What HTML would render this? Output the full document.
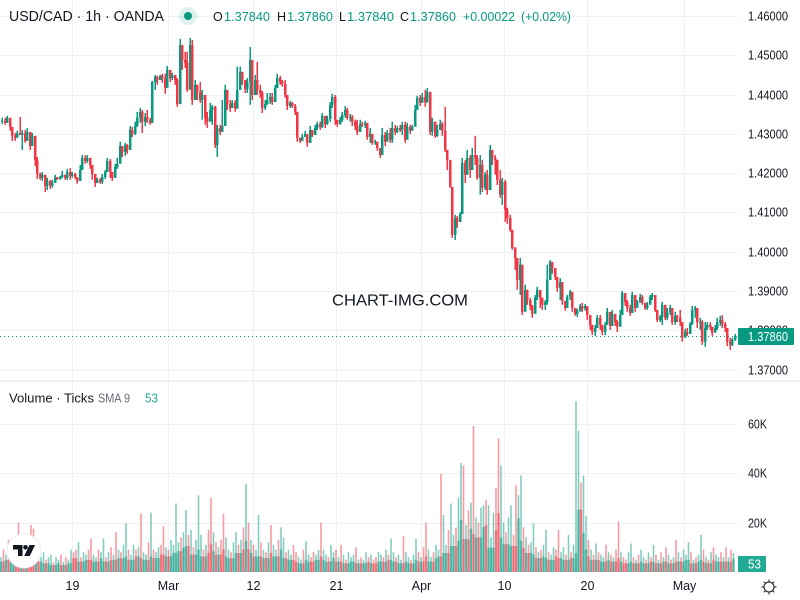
<!DOCTYPE html>
<html lang="en">
<head>
<meta charset="utf-8">
<title>USD/CAD 1h OANDA</title>
<style>
html,body{margin:0;padding:0;background:#fff;width:800px;height:600px;overflow:hidden}
svg{display:block}
text{font-family:"Liberation Sans","DejaVu Sans",sans-serif;fill:#131722}
.ax{font-size:12.5px}
.lg{font-size:12.5px}
.up{fill:#089981}
</style>
</head>
<body>
<svg id="chart" width="800" height="600" viewBox="0 0 800 600" xmlns="http://www.w3.org/2000/svg">
<rect width="800" height="600" fill="#fff"/>
<g id="grid"></g>
<g id="volume-bars"></g>
<g id="candles"></g>
<line id="last-line" x1="0" x2="738" stroke="#089981" stroke-width="1" stroke-dasharray="1 3"/>
<rect x="0" y="380.5" width="800" height="1" fill="#e0e3eb"/>
<g id="price-axis"></g>
<g id="volume-axis"></g>
<g id="time-axis"></g>
<rect x="738" y="328" width="56" height="17" rx="1" fill="#089981"/>
<text class="ax" x="748" y="341" textLength="40" lengthAdjust="spacingAndGlyphs" style="fill:#fff">1.37860</text>
<rect x="738" y="556" width="28" height="16" rx="1" fill="#22ab94"/>
<text class="ax" x="748" y="568.5" textLength="13" lengthAdjust="spacingAndGlyphs" style="fill:#fff">53</text>

<text x="9" y="21" font-size="14.5" textLength="155" lengthAdjust="spacingAndGlyphs">USD/CAD · 1h · OANDA</text>
<circle cx="188" cy="16" r="9" fill="#089981" fill-opacity="0.13"/>
<circle cx="188" cy="16" r="4" fill="#089981"/>
<g>
<text class="lg" x="213" y="21">O</text>
<text class="lg up" x="224" y="21" textLength="46" lengthAdjust="spacingAndGlyphs">1.37840</text>
<text class="lg" x="277" y="21">H</text>
<text class="lg up" x="287" y="21" textLength="46" lengthAdjust="spacingAndGlyphs">1.37860</text>
<text class="lg" x="339" y="21">L</text>
<text class="lg up" x="347" y="21" textLength="47" lengthAdjust="spacingAndGlyphs">1.37840</text>
<text class="lg" x="400" y="21">C</text>
<text class="lg up" x="410" y="21" textLength="46" lengthAdjust="spacingAndGlyphs">1.37860</text>
<text class="lg up" x="463" y="21" textLength="52" lengthAdjust="spacingAndGlyphs">+0.00022</text>
<text class="lg up" x="521" y="21" textLength="50" lengthAdjust="spacingAndGlyphs">(+0.02%)</text>
</g>
<text x="332" y="305.5" font-size="16" textLength="136" lengthAdjust="spacingAndGlyphs">CHART-IMG.COM</text>
<g>
<text x="9" y="402.5" font-size="13" textLength="85" lengthAdjust="spacingAndGlyphs">Volume · Ticks</text>
<text x="98" y="402.5" font-size="12.5" textLength="32" lengthAdjust="spacingAndGlyphs" style="fill:#6a6d78">SMA 9</text>
<text x="145" y="402.5" font-size="12.5" textLength="13" lengthAdjust="spacingAndGlyphs" style="fill:#22ab94">53</text>
</g>
<g>
<circle cx="24" cy="551" r="17" fill="#fff" stroke="#eceef2" stroke-width="1"/>
<path d="M13 545h9.500v11h-4.500v-6.500h-5z" fill="#131722"/>
<circle cx="25.5" cy="547.3" r="2.3" fill="#131722"/>
<path d="M29.500 545h5.500l-5.200 11h-5.600z" fill="#131722"/>
</g>
<g stroke="#131722" stroke-width="1" fill="none">
<circle cx="769" cy="587" r="5"/>
<path d="M769 579.500v2M769 592.500v2M761.500 587h2M774.500 587h2M763.700 581.700l1.500 1.500M772.800 590.800l1.500 1.500M763.700 592.300l1.500-1.500M772.800 583.200l1.500-1.500"/>
</g>
</svg>
<script>
const basePrice = 1.37;
const lastPrice = 1.3786;
const priceTicks = [1.46,1.45,1.44,1.43,1.42,1.41,1.40,1.39,1.38,1.37];
const volumeTicks = [20,40,60];
const dateLabels = ["19","Mar","12","21","Apr","10","20","May"];
const dateBars = [28.4,66.6,100.6,134,167.8,201,234.2,273];
// prices in pips above basePrice
const closePips = [
633,628,641,618,595,590,602,597,602,582,
605,569,595,534,498,488,496,468,480,468,
475,490,485,490,496,488,503,493,498,490,
480,508,539,531,539,521,498,475,483,478,
490,503,531,503,488,516,524,569,554,572,
559,610,600,620,641,656,631,643,636,628,
732,745,737,748,742,717,763,742,750,737,
676,826,788,781,712,826,686,725,707,686,
699,641,631,661,669,572,615,605,620,712,
676,666,679,664,712,758,737,714,732,788,
699,737,712,704,666,676,686,694,681,717,
742,732,727,699,671,679,671,656,590,582,
592,600,577,610,597,615,625,618,646,625,
638,674,694,636,625,636,648,661,641,643,
631,620,605,625,623,628,592,600,577,580,
564,546,597,580,602,585,615,605,615,610,
623,585,618,608,618,661,692,679,694,681,
707,605,631,595,610,625,608,559,534,465,
343,386,376,396,526,496,539,508,546,539,
488,521,463,496,457,559,539,534,483,445,
478,407,386,356,310,284,228,267,147,203,
177,162,142,183,203,183,165,172,228,274,
259,236,208,223,175,157,185,198,157,142,
150,162,155,162,139,114,96,106,132,114,
96,114,147,111,142,121,109,139,195,172,
157,144,190,157,170,185,170,157,165,185,
190,152,126,134,165,132,147,157,121,137,
132,121,81,96,91,116,152,157,121,121,
71,106,114,109,94,106,121,126,116,106,
71,63,76,86];
const highPips = [
641,641,646,631,615,602,608,643,610,610,
615,592,602,592,541,501,503,490,488,483,
483,496,490,493,506,496,511,513,503,501,
490,521,546,546,546,529,513,483,488,488,
498,508,539,536,496,524,539,580,567,577,
574,620,618,631,656,666,661,653,661,641,
735,750,748,750,753,753,773,750,755,748,
742,842,801,809,809,844,839,737,725,732,
712,686,656,679,674,671,623,623,686,725,
686,686,686,686,771,771,748,737,742,821,
737,750,783,725,709,686,704,704,704,725,
753,748,737,737,699,684,681,676,656,590,
600,608,597,620,608,623,631,631,653,641,
646,681,702,699,631,643,656,671,666,651,
648,636,636,636,631,633,615,615,587,585,
577,559,615,605,610,615,631,623,620,623,
631,631,628,623,623,674,697,699,704,712,
717,707,641,605,623,636,631,669,559,508,
432,394,391,401,539,534,559,546,564,595,
546,546,534,503,508,572,554,546,513,508,
488,483,412,394,351,312,274,284,241,216,
203,183,165,190,211,203,183,177,267,279,
274,254,233,233,188,172,190,203,183,152,
155,167,170,167,162,139,106,114,139,139,
114,121,157,139,152,139,126,152,200,190,
177,165,198,165,177,193,190,170,172,190,
195,170,139,139,172,152,157,165,147,147,
139,152,114,104,106,121,162,162,152,132,
126,121,121,121,106,114,132,137,139,121,
101,81,81,91];
const lowPips = [
625,623,631,608,582,582,592,597,559,577,
585,559,580,518,485,483,480,452,457,460,
463,478,483,483,488,483,483,483,488,485,
473,493,524,524,526,511,483,465,475,473,
473,485,513,488,480,506,511,534,541,544,
549,582,592,597,618,628,602,620,628,623,
628,712,725,737,730,702,737,732,737,725,
669,763,763,768,707,750,674,699,686,679,
636,623,615,636,623,564,541,597,610,661,
661,656,666,656,699,725,725,704,704,674,
686,725,699,692,653,661,674,676,674,699,
717,725,720,692,661,666,666,648,580,577,
582,592,567,580,592,600,610,610,615,615,
623,631,666,623,618,623,631,641,636,631,
620,610,597,615,618,615,585,577,572,572,
557,539,564,569,585,577,577,597,602,605,
597,577,597,600,610,636,666,671,686,669,
679,597,595,590,592,610,595,554,508,463,
335,330,361,376,407,475,496,488,508,521,
483,445,452,457,445,529,521,496,470,437,
419,376,371,351,305,254,203,190,139,177,
165,152,132,165,177,157,152,152,165,259,
244,228,198,177,165,150,165,177,147,137,
134,147,147,150,126,101,88,86,114,101,
88,88,114,101,121,111,96,121,165,162,
147,137,165,147,162,172,165,152,152,172,
177,147,121,121,114,126,126,139,114,114,
121,111,71,86,86,101,114,132,106,101,
63,58,101,101,86,96,101,111,106,96,
60,50,60,73];
// tick volume, thousands
const volumeK = [
6,9,7,13,11,8,9,20,12,8,
10,7,19,17.5,10,7,6,8,5,6,
7,4,6,5,7,4,6,5,9,8,
9,12,6,8,7,9,13.5,7,6,9,
8,13.5,6,8,10,7,16,9,8,11,
19.6,9,7,11,9,10,23.6,8,7,12,
24,9,8,10,11,18.5,10,9,13,11,
27.7,12,14,16,25,15,17,10,13,31,
15,9,11,17,30,16,12,10,13,23.6,
14,9,8,12,16,11,13,18,35.5,20,
13,11,9,23,12,9,8,12,19,11,
9,13,18,14,8,9,7,11,8,6,
5,9,12.4,7,6,8,7,9,20,9,
7,6,11,8,9,6,11,7,5,8,
6,7,10,5,6,5,8,6,7,5,
6,8,7,6,9,7,13.5,8,6,7,
5,14.5,8,6,5,7,13.5,8,6,10,
20,9,6,8,11,9,39.6,23,11,17,
27.7,15,18,30,44,43,19,25,28,59,
22,20,26,27,29,27,14,24,34,54,
43,20,16,22,27,15,35,31,39,18,
14,11,12,19.6,10,8,9,11,17,8,
7,10,9,17,8,10,7,15,8,11,
69,57,36,39,22.5,13,9,7,11.5,8,
7,6,11,8,7,6,9,20.5,8,6,
5,8,11.5,6,5,7,9,6,5,8,
6,11,7,5,8,6,10,7,5,6,
13,8,6,9,7,12,8,5,6,7,
15,9,6,5,8,10,7,6,8,6,
10,6,9,7.7];
// volume bar direction: u = up (teal), d = down (red)
const volumeSideRows = [
"ududuuddud","uddduduudu","uduududuud","duduudduud","uududududu",
"uduududuud","uduudduduu","uuduududuu","ududdududd","uuduududud",
"uduudududu","uduuduuddu","uduudduudu","uduudududu","uududuudud",
"duududuudu","uduuduudud","duuduuduud","uuduududud","uduuduuudd",
"uuduudduud","uduududuud","uudduududu","uuduududud","uudududdud",
"duududuudu","dududududu","duduuududu","udududuudu","dudu"];

const NS = 'http://www.w3.org/2000/svg';
const UP = '#089981', DOWN = '#F23645';
const sideString = volumeSideRows.join("");
function xScale(i){ return 1 + 2.5 * i; }
function yPrice(p){ return 16 + (1.46 - p) * 3929; }
function yVolume(k){ return 572 - k * 2.475; }
function pipsToPrice(v){ return basePrice + v / 10000; }
function make(tag, attrs, parent){
  const el = document.createElementNS(NS, tag);
  for (const k in attrs) el.setAttribute(k, attrs[k]);
  parent.appendChild(el);
  return el;
}
const gridG = document.getElementById('grid');
priceTicks.forEach(function(t){
  const y = Math.round(yPrice(t)) + 0.5;
  const line = make('line', {x1:0, x2:738, y1:y, y2:y, stroke:'#f0f1f4'}, gridG);
  
  
  const label = make('text', {x:748, y:y + 4, 'class':'ax', textLength:40, lengthAdjust:'spacingAndGlyphs'}, document.getElementById('price-axis'));
  
  
  label.textContent = t.toFixed(5);
});
volumeTicks.forEach(function(t){
  const y = Math.round(yVolume(t)) + 0.5;
  const line = make('line', {x1:0, x2:738, y1:y, y2:y, stroke:'#f0f1f4'}, gridG);
  
  
  const label = make('text', {x:748, y:y + 4, 'class':'ax', textLength:19, lengthAdjust:'spacingAndGlyphs'}, document.getElementById('volume-axis'));
  
  
  label.textContent = t + 'K';
});
dateLabels.forEach(function(d, n){
  const x = Math.round(xScale(dateBars[n])) + 0.5;
  const line = make('line', {x1:x, x2:x, y1:0, y2:572, stroke:'#f0f1f4'}, gridG);
  
  
  const label = make('text', {x:x, y:590, 'class':'ax', 'text-anchor':'middle'}, document.getElementById('time-axis'));
  
  
  label.textContent = d;
});
const volG = document.getElementById('volume-bars');
const candleG = document.getElementById('candles');
closePips.forEach(function(c, i){
  const o = i > 0 ? closePips[i - 1] : c;
  const color = c >= o ? UP : DOWN;
  const x = Math.round(xScale(i));
  const vColor = sideString[i] === 'd' ? DOWN : UP;
  const yv = yVolume(volumeK[i]);
  const vb = make('rect', {x:xScale(i) - 0.8, y:yv, width:1.6, height:572 - yv, fill:vColor, 'fill-opacity':0.5}, volG);
  
  
  const shared = 0.7 * Math.min(volumeK[i], volumeK[Math.max(i - 1, 0)], volumeK[Math.min(i + 1, volumeK.length - 1)]);
  const yb = yVolume(shared);
  const vf = make('rect', {x:xScale(i) - 1.25, y:yb, width:2.5, height:572 - yb, fill:vColor, 'fill-opacity':0.5}, volG);
  
  
  const yh = yPrice(pipsToPrice(highPips[i]));
  const yl = yPrice(pipsToPrice(lowPips[i]));
  const wick = make('rect', {x:x + 0.5, y:yh, width:1.5, height:Math.max(yl - yh, 1), fill:color}, candleG);
  
  
  const yo = yPrice(pipsToPrice(o));
  const yc = yPrice(pipsToPrice(c));
  const body = make('rect', {x:x, y:Math.min(yo, yc), width:2.5, height:Math.max(Math.abs(yo - yc), 1), fill:color}, candleG);
  
  
});
const last = document.getElementById('last-line');
const ly = Math.round(yPrice(lastPrice)) + 0.5;
last.setAttribute('y1', ly);
last.setAttribute('y2', ly);
</script>
</body>
</html>
